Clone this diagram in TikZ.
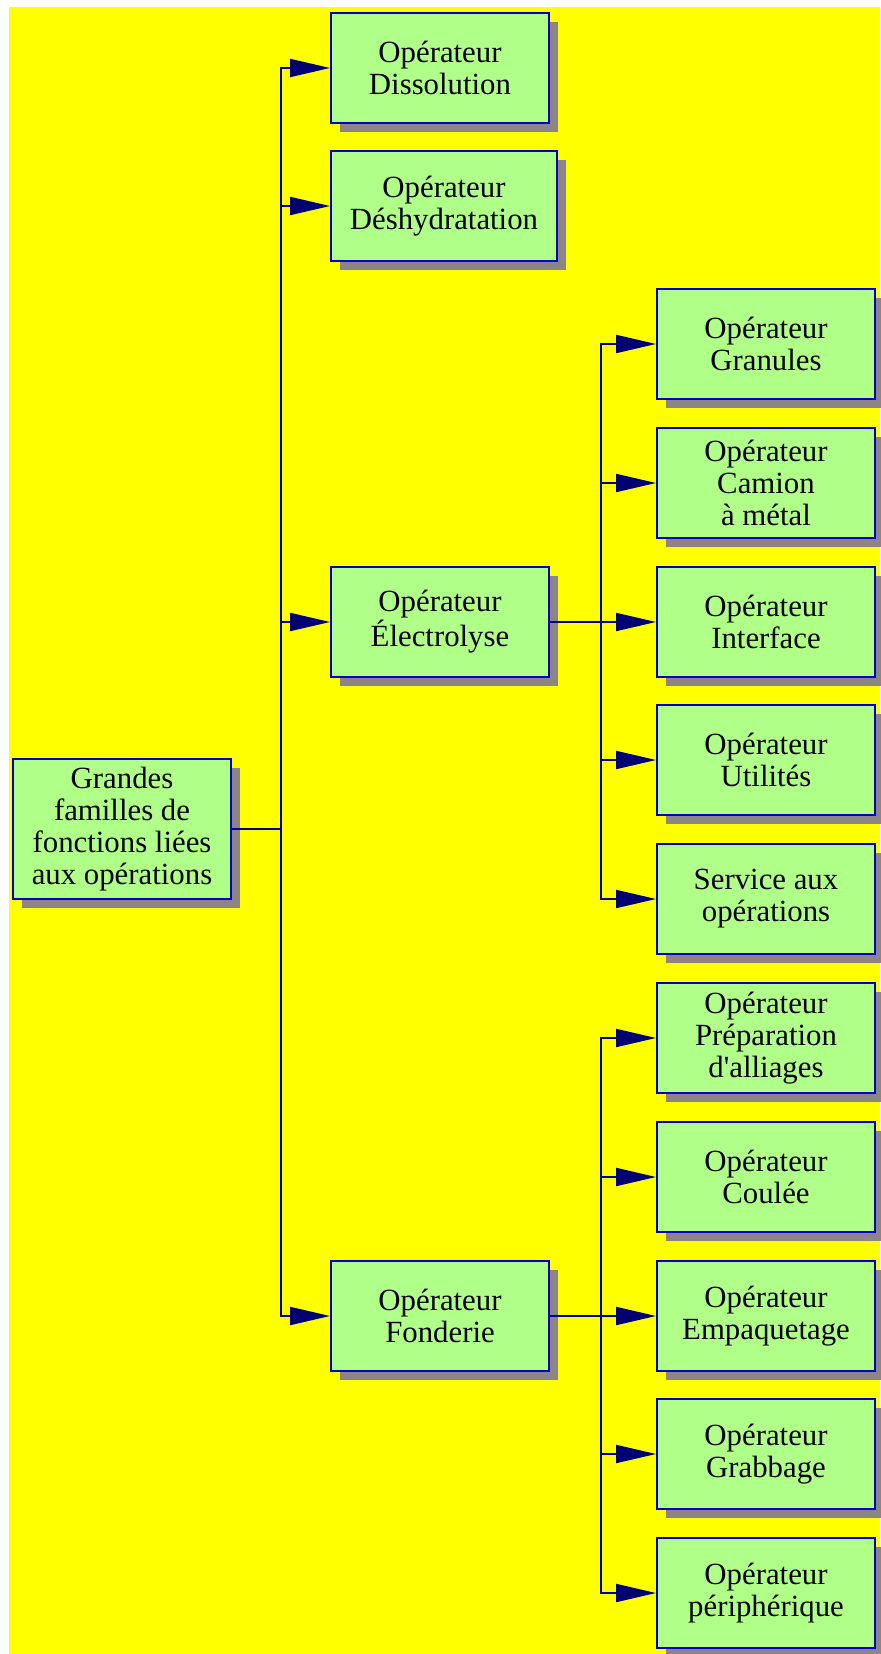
\documentclass[tikz,border=0pt]{standalone}
\usepackage{fontspec}
\setmainfont{Liberation Serif}[Ligatures=TeXOff]
\usetikzlibrary{arrows.meta,shadows}
\definecolor{fond}{RGB}{255,255,0}
\definecolor{vert}{RGB}{176,255,136}
\definecolor{bord}{RGB}{0,0,204}
\definecolor{trait}{RGB}{0,0,160}
\definecolor{pointe}{RGB}{0,0,112}
\definecolor{ombre}{RGB}{141,133,133}
\begin{document}
\begin{tikzpicture}[x=0.5pt, y=-0.5pt,
  op/.style={rectangle, draw=bord, line width=1pt, fill=vert, align=center,
    minimum width=109pt, minimum height=55pt, inner xsep=9.45pt,
    font=\fontsize{15.4pt}{16pt}\selectfont,
    drop shadow={opacity=1, fill=ombre, shadow xshift=4.5pt, shadow yshift=-4.5pt}},
  lien/.style={draw=trait, line width=1pt},
  fleche/.style={lien, -{Triangle[length=20pt, width=9pt, color=pointe]}}]

\useasboundingbox (0,0) rectangle (880,1654);
\fill[fond] (9,7) rectangle (880,1654);

\node(A) at (122,829)[op, minimum height=70pt]{Grandes\\familles de\\fonctions liées\\aux opérations};

\node(B) at (440,68)[op]{Opérateur\\Dissolution};
\node(C) at (444,206)[op]{Opérateur\\Déshydratation};
\node(D) at (440,622)[op]{Opérateur\\Électrolyse};
\node(E) at (440,1316)[op]{Opérateur\\Fonderie};

\node(F) at (766,344)[op]{Opérateur\\Granules};
\node(G) at (766,483)[op]{Opérateur\\Camion\\à métal};
\node(H) at (766,622)[op]{Opérateur\\Interface};
\node(I) at (766,760)[op]{Opérateur\\Utilités};
\node(J) at (766,899)[op]{Service aux\\opérations};

\node(K) at (766,1038)[op]{Opérateur\\Préparation\\d'alliages};
\node(L) at (766,1177)[op]{Opérateur\\Coulée};
\node(M) at (766,1316)[op]{Opérateur\\Empaquetage};
\node(N) at (766,1454)[op]{Opérateur\\Grabbage};
\node(O) at (766,1593)[op]{Opérateur\\périphérique};

% troncs
\coordinate(T1) at (281,829);
\coordinate(T2) at (601,622);
\coordinate(T3) at (601,1316);

\draw[lien](A)--(T1);
\draw[fleche](T1)|-(B);
\draw[fleche](T1)|-(C);
\draw[fleche](T1)|-(D);
\draw[fleche](T1)|-(E);

\draw[lien](D)--(T2);
\draw[fleche](T2)|-(F);
\draw[fleche](T2)|-(G);
\draw[fleche](T2)--(H);
\draw[fleche](T2)|-(I);
\draw[fleche](T2)|-(J);

\draw[lien](E)--(T3);
\draw[fleche](T3)|-(K);
\draw[fleche](T3)|-(L);
\draw[fleche](T3)--(M);
\draw[fleche](T3)|-(N);
\draw[fleche](T3)|-(O);

\end{tikzpicture}
\end{document}
